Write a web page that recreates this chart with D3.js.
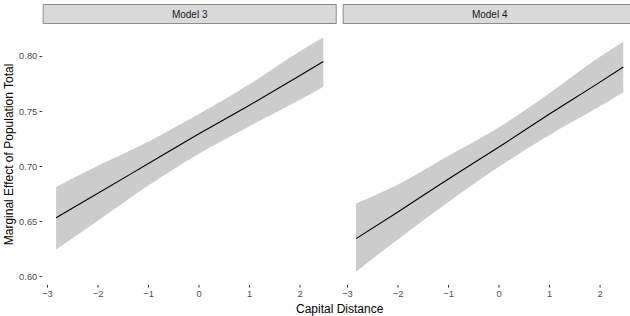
<!DOCTYPE html>
<html>
<head>
<meta charset="utf-8">
<script src="https://cdn.jsdelivr.net/npm/d3@7"></script>
<style>
  body { margin: 0; background: #fff; }
  svg { display: block; font-family: "Liberation Sans", Arial, sans-serif; }
</style>
</head>
<body>
<div id="chart"></div>
<script>
// ---------------------------------------------------------------------------
// Data

const panels = ['Model 3', 'Model 4'];
const xValues = [-2.82, -2, -1, 0, 1, 2, 2.47];

const fitModel3 = [0.653, 0.675, 0.702, 0.729, 0.755, 0.782, 0.795];
const lowerModel3 = [0.624, 0.650, 0.682, 0.711, 0.736, 0.760, 0.772];
const upperModel3 = [0.681, 0.700, 0.722, 0.747, 0.774, 0.804, 0.817];

const fitModel4 = [0.634, 0.658, 0.688, 0.717, 0.747, 0.776, 0.790];
const lowerModel4 = [0.604, 0.633, 0.667, 0.699, 0.728, 0.754, 0.767];
const upperModel4 = [0.666, 0.683, 0.709, 0.735, 0.766, 0.799, 0.813];

const xTicks = [-3, -2, -1, 0, 1, 2];
const yTicks = [0.60, 0.65, 0.70, 0.75, 0.80];

// ---------------------------------------------------------------------------
// Layout

const width = 630;
const height = 316;
const panelWidth = 294;
const panelGap = 6;
const margin = { left: 42.7, top: 25.5, bottom: 32.6 };
const stripTop = 4;
const stripHeight = 20;
const panelHeight = height - margin.top - margin.bottom;
const font = '"Liberation Sans", Arial, sans-serif';

const series = [
  { fit: fitModel3, lower: lowerModel3, upper: upperModel3 },
  { fit: fitModel4, lower: lowerModel4, upper: upperModel4 }
];

const x = d3.scaleLinear().domain([-3.085, 2.735]).range([0, panelWidth]);
const y = d3.scaleLinear().domain([0.5933, 0.8277]).range([panelHeight, 0]);

const svg = d3.select('#chart').append('svg')
  .attr('width', width)
  .attr('height', height);

panels.forEach((name, i) => {
  const left = margin.left + i * (panelWidth + panelGap);
  const s = series[i];
  const rows = xValues.map((xv, j) => ({ x: xv, fit: s.fit[j], lo: s.lower[j], hi: s.upper[j] }));

  // strip
  svg.append('rect')
    .attr('x', left + 0.5)
    .attr('y', stripTop + 0.5)
    .attr('width', panelWidth - 1)
    .attr('height', stripHeight - 1)
    .attr('fill', '#d9d9d9')
    .attr('stroke', '#8c8c8c')
    .attr('stroke-width', 1);
  svg.append('text')
    .attr('x', left + panelWidth / 2)
    .attr('y', stripTop + stripHeight / 2)
    .attr('dy', '0.35em')
    .attr('text-anchor', 'middle')
    .attr('font-size', 10)
    .attr('fill', '#1a1a1a')
    .text(name);

  const g = svg.append('g').attr('transform', `translate(${left},${margin.top})`);

  g.append('path')
    .datum(rows)
    .attr('fill', '#cccccc')
    .attr('d', d3.area().x(d => x(d.x)).y0(d => y(d.lo)).y1(d => y(d.hi)).curve(d3.curveMonotoneX));

  g.append('path')
    .datum(rows)
    .attr('fill', 'none')
    .attr('stroke', '#000')
    .attr('stroke-width', 1.1)
    .attr('d', d3.line().x(d => x(d.x)).y(d => y(d.fit)).curve(d3.curveMonotoneX));

  // x axis
  const xAxis = g.append('g')
    .attr('transform', `translate(0,${panelHeight + 1.5})`)
    .call(d3.axisBottom(x).tickValues(xTicks).tickSize(2.7).tickPadding(2.5)
      .tickFormat(d => d3.format('d')(d).replace('-', '\u2212')));
  xAxis.select('.domain').remove();
  xAxis.selectAll('line').attr('stroke', '#333');
  xAxis.selectAll('text').attr('font-size', 9.4).attr('fill', '#4d4d4d')
    .attr('font-family', font);

  // y axis (only on first panel)
  if (i === 0) {
    const yAxis = g.append('g')
      .attr('transform', 'translate(-0.5,0)')
      .call(d3.axisLeft(y).tickValues(yTicks).tickSize(2.7).tickPadding(2.2)
        .tickFormat(d3.format('.2f')));
    yAxis.select('.domain').remove();
    yAxis.selectAll('line').attr('stroke', '#333');
    yAxis.selectAll('text').attr('font-size', 9.4).attr('fill', '#4d4d4d')
      .attr('font-family', font);
  }
});

// axis titles
svg.append('text')
  .attr('x', margin.left + panelWidth + panelGap / 2)
  .attr('y', 313)
  .attr('text-anchor', 'middle')
  .attr('font-size', 12)
  .attr('fill', '#000')
  .text('Capital Distance');

svg.append('text')
  .attr('transform', `translate(12.5,${margin.top + panelHeight / 2}) rotate(-90)`)
  .attr('text-anchor', 'middle')
  .attr('font-size', 12)
  .attr('fill', '#000')
  .text('Marginal Effect of Population Total');
</script>
</body>
</html>
